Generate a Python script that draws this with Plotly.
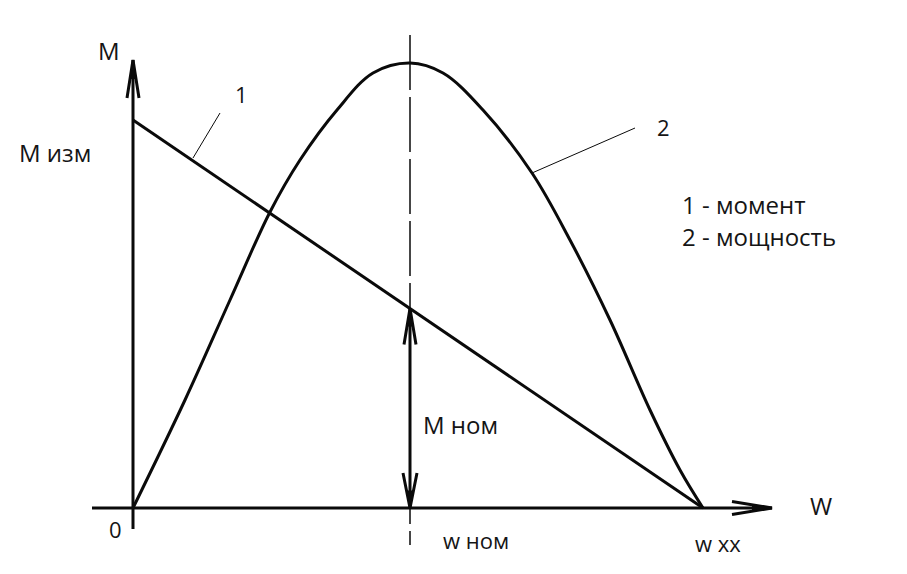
import plotly.graph_objects as go

# schematic units: 1 unit ~ 1 px, origin at the axes crossing
W_XX = 570
W_NOM = 277
M_IZM = 388

# line 1 - torque (straight line from M изм down to w xx)
torque_w = [0, W_XX]
torque_m = [M_IZM, 0]

# line 2 - power, hand-drawn hump
power_w = [0, 52, 97, 137, 167, 204, 240, 277, 310, 350, 399, 437, 477, 517, 547, 570]
power_p = [0, 108, 208, 296, 348, 398, 435, 445, 435, 398, 335, 268, 188, 98, 38, 0]

# axes
axis_w = [-41, 639]
axis_m = [-21, 448]
dash_m = [473, -37]

# leader lines for the curve numbers
lead1_w = [60, 87]
lead1_m = [350, 395]
lead2_w = [399, 502]
lead2_m = [335, 380]

fig = go.Figure()

BLACK = "#0a0a0a"


def line(x, y, width=3, dash="solid", color=BLACK, shape="linear"):
    fig.add_trace(go.Scatter(x=x, y=y, mode="lines",
                             line={"color": color, "width": width, "dash": dash, "shape": shape},
                             hoverinfo="skip", showlegend=False))


def arrowhead(tip_x, tip_y, dx, dy, length, half):
    # dx, dy: unit direction the arrow points to
    bx, by = tip_x - dx * length, tip_y - dy * length
    px, py = -dy * half, dx * half
    line([bx + px, tip_x, bx - px], [by + py, tip_y, by - py], width=3)
    mx, my = (bx + tip_x) / 2, (by + tip_y) / 2
    fig.add_trace(go.Scatter(x=[mx + px * 0.4, tip_x, mx - px * 0.4],
                             y=[my + py * 0.4, tip_y, my - py * 0.4],
                             mode="lines", fill="toself", fillcolor=BLACK, line={"color": BLACK, "width": 1},
                             hoverinfo="skip", showlegend=False))


# dashed w ном guide
line([W_NOM, W_NOM], dash_m, width=1.5, dash="55px,7px")

# axes
line(axis_w, [0, 0], width=3)
line([0, 0], axis_m, width=3)
arrowhead(axis_w[1], 0, 1, 0, 40, 6.5)
arrowhead(0, axis_m[1], 0, 1, 38, 6)

# curves
line(torque_w, torque_m, width=3)
line(power_w, power_p, width=3, shape="spline")

# M ном double arrow
m_nom = M_IZM * (1 - W_NOM / W_XX)
line([W_NOM, W_NOM], [0, m_nom], width=3)
arrowhead(W_NOM, m_nom, 0, 1, 36, 6)
arrowhead(W_NOM, 0, 0, -1, 35, 7)

# leaders
line(lead1_w, lead1_m, width=1)
line(lead2_w, lead2_m, width=1)

FONT = "Open Sans, Noto Sans, sans-serif"
labels = [
    ("M", -24, 458, 24, "center"),
    ("M изм", -78, 356, 24, "center"),
    ("0", -18, -21, 22, "center"),
    ("1", 108, 414, 22, "center"),
    ("2", 530, 381, 22, "center"),
    ("M ном", 327, 84, 24, "center"),
    ("w ном", 343, -32, 22, "center"),
    ("w xx", 585, -35, 22, "center"),
    ("W", 688, 3, 24, "center"),
    ("1 - момент", 547, 304, 24, "left"),
    ("2 - мощность", 547, 272, 24, "left"),
]
for text, x, y, size, anchor in labels:
    fig.add_annotation(x=x, y=y, text=text, showarrow=False, xanchor=anchor, yanchor="middle",
                       font={"family": FONT, "size": size, "color": "#151515"})

# page body has an 8px margin, so shift the ranges to keep the origin in place
fig.update_layout(
    width=907,
    height=574,
    margin={"l": 0, "r": 0, "t": 0, "b": 0},
    paper_bgcolor="white",
    plot_bgcolor="white",
    showlegend=False,
    xaxis={"range": [-125, 782], "visible": False, "fixedrange": True},
    yaxis={"range": [-74, 500], "visible": False, "fixedrange": True},
)

fig.write_html("out.html")
